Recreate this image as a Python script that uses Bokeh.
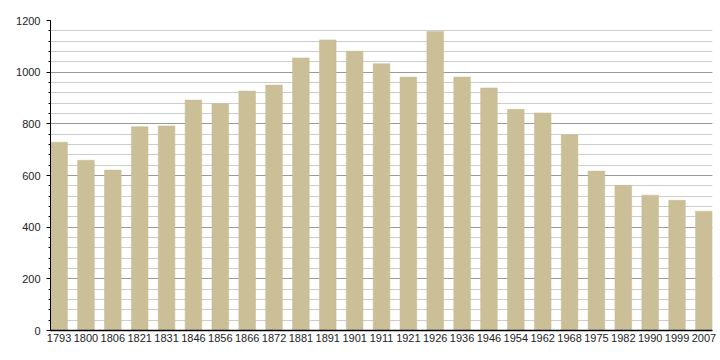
from bokeh.plotting import figure
from bokeh.models import Range1d, FixedTicker, SingleIntervalTicker
from bokeh.embed import file_html
from bokeh.resources import INLINE

years = ["1793", "1800", "1806", "1821", "1831", "1846", "1856", "1866", "1872",
         "1881", "1891", "1901", "1911", "1921", "1926", "1936", "1946", "1954",
         "1962", "1968", "1975", "1982", "1990", "1999", "2007"]
population = [729, 659, 621, 789, 792, 892, 878, 927, 950,
              1055, 1125, 1081, 1033, 981, 1157, 981, 939, 856,
              842, 758, 617, 562, 524, 504, 462]

idx = list(range(len(years)))
bar_w = 0.62

p = figure(width=720, height=360, output_backend="svg", toolbar_location=None,
           x_range=Range1d(-bar_w / 2 - 0.01, len(years) - 1 + bar_w / 2 + 0.01),
           y_range=Range1d(0, 1200),
           min_border_left=50, min_border_right=8, min_border_top=20, min_border_bottom=30)
p.outline_line_color = None
p.background_fill_color = "white"
p.border_fill_color = "white"

p.vbar(x=idx, top=population, width=bar_w, fill_color="#CBBF98", line_color="#C6BA93", line_width=0.5)

# y axis
p.yaxis.ticker = SingleIntervalTicker(interval=200, num_minor_ticks=5)
p.yaxis.axis_line_color = "black"
p.yaxis.major_tick_out = 4
p.yaxis.major_tick_in = 0
p.yaxis.minor_tick_out = 2
p.yaxis.minor_tick_in = 0
p.yaxis.major_tick_line_color = "black"
p.yaxis.minor_tick_line_color = "black"
p.yaxis.major_label_text_font = "Liberation Sans"
p.yaxis.major_label_text_font_size = "11px"
p.yaxis.major_label_text_color = "#222222"
p.yaxis.major_label_standoff = 6

# x axis
p.xaxis.ticker = FixedTicker(ticks=idx)
p.xaxis.major_label_overrides = {i: y for i, y in zip(idx, years)}
p.xaxis.axis_line_color = "black"
p.xaxis.axis_line_width = 1.5
p.xaxis.major_tick_out = 0
p.xaxis.major_tick_in = 0
p.xaxis.minor_tick_line_color = None
p.xaxis.major_label_text_font = "Liberation Sans"
p.xaxis.major_label_text_font_size = "11px"
p.xaxis.major_label_text_color = "#222222"
p.xaxis.major_label_standoff = 3

# grid
p.xgrid.grid_line_color = None
p.ygrid.grid_line_color = "#9a9a9a"
p.ygrid.minor_grid_line_color = "#cccccc"
p.ygrid.level = "underlay"

open("out.html", "w").write(file_html(p, INLINE))
